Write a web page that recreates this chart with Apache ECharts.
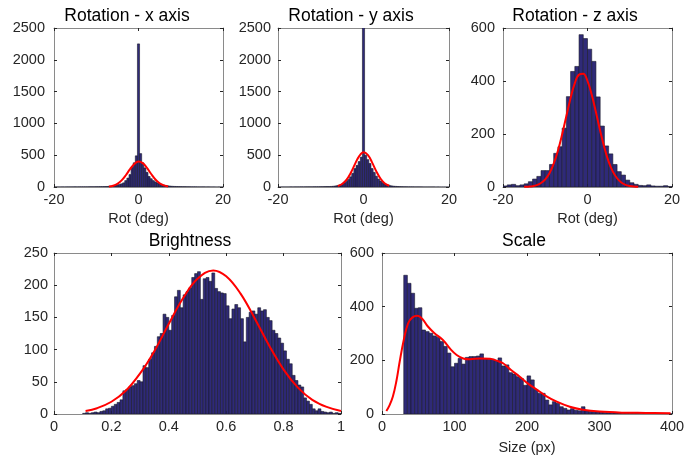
<!DOCTYPE html>
<html><head><meta charset="utf-8">
<script src="https://cdn.jsdelivr.net/npm/echarts@6/dist/echarts.min.js"></script>
<style>html,body{margin:0;padding:0;background:#fff}#c{width:694px;height:456px}</style>
</head><body><div id="c"></div>
<script>
// ---------- DATA ----------
const titles = ['Rotation - x axis', 'Rotation - y axis', 'Rotation - z axis', 'Brightness', 'Scale'];

// Rotation x: bins of 0.5 deg, first bin starts at -20.25
const rotXStart = -20.25, rotXWidth = 0.5;
const rotXCounts = [0,1,1,1,2,1,2,2, 2,2,3,2,3,3,3,3, 3,4,4,4,5,5,6,6,
  7,8,10,13,16,24,30,40,50,65,100,140,195,310,380,490,
  2250,
  525,380,300,230,165,130,100,80,64,52,40,30,24,18,14,11,9,8,7,6,5,5,4,4,3,3,3,2,2,2,2,1,2,1,1,1,0,1,0,0];
const rotXFitX = [-7,-6,-5,-4,-3,-2,-1,0,1,2,3,4,5,6,7];
const rotXFitY = [7,20,50,104,185,281,363,400,375,300,204,118,59,25,9];

// Rotation y
const rotYStart = -20.25, rotYWidth = 0.5;
const rotYCounts = [0,0,1,1,1,1,2,1, 2,2,2,3,2,3,3,3, 3,4,4,4,5,5,6,7,
  7,9,12,17,24,33,47,65,88,120,160,215,290,340,400,470,
  3200,
  500,430,370,290,230,170,125,95,70,50,36,26,18,13,10,8,6,5,4,4,3,3,3,2,2,2,2,1,1,1,1,1,1,0,1,0,0,0,0,0];
const rotYFitX = [-6,-5,-4,-3,-2,-1,0,1,2,3,4,5,6];
const rotYFitY = [16,47,111,220,359,486,545,505,387,246,129,56,20];

// Rotation z: bins of 1 deg from -20
const rotZStart = -20, rotZWidth = 1;
const rotZCounts = [4,8,10,5,8,12,20,30,40,62,62,85,127,152,222,341,436,455,575,560,
  520,474,340,230,155,125,85,58,45,26,16,10,6,5,8,4,3,3,5,2];
const rotZFitX = [-15,-14,-13,-12,-11,-10,-9,-8,-7,-6,-5,-4,-3,-2,-1,0,1,2,3,4,5,6,7,8,9,10,11,12];
const rotZFitY = [0.5,1.3,3,7,15,29,52,88,137,199,268,336,392,424,427,400,348,282,212,148,96,58,33,17,8,4,1.6,0.6];

// Brightness: bins of 0.01 from 0.10
const brightStart = 0.10, brightWidth = 0.01;
const brightCounts = [1,2,1,2,3,2,4,5,8,9, 12,15,18,22,36,38,42,44,47,52,
  50,75,72,85,95,105,120,125,155,150, 130,153,182,192,165,185,190,196,212,218,
  221,178,210,212,206,219,195,190,188,187, 168,148,163,170,165,148,112,150,158,160,
  155,165,160,162,150,145,130,125,118,110, 98,85,78,60,52,45,42,25,20,15,
  8,5,8,4,3,2,3,1,2,1];
const brightFitX = [0.11,0.15,0.20,0.25,0.30,0.35,0.40,0.45,0.50,0.555,0.60,0.65,0.70,0.75,0.80,0.85,0.90,0.95,1.00];
const brightFitY = [4.7,9,19,36,63,98,140,180,210,223,214,187,148,106,69,41,22,11,4.7];

// Scale: bins of 5 px from 30
const scaleStart = 30, scaleWidth = 5;
const scaleCounts = [517,487,450,394,396,313,307,301,291,286, 270,252,227,176,189,207,186,211,214,214,
  216,224,207,204,204,199,209,179,183,154, 149,139,132,107,142,127,91,77,77,52,
  34,46,40,27,21,15,20,14,12,27, 12,10,9,8,7,6,5,6,4,4,
  3,3,2,2,2,1,2,1,1,1, 1,0,1,1];
const scaleFitX = [6,10,15,20,24,30,36,42,49,56,63,72,84,95,103,112,121,135,149,158,167,178,190,201,213,227,241,259,277,300,332,364,398];
const scaleFitY = [11,30,65,125,189,276,338,360,366,353,327,302,276,240,220,207,204,207,206,199,189,164,139,114,92,66,46,27,16,9,5,4,3];

// Axis ticks [min, max, step]
const xTicks = [[-20,20,20],[-20,20,20],[-20,20,20],[0,1,0.2],[0,400,100]];
const yTicks = [[0,2500,500],[0,2500,500],[0,600,200],[0,250,50],[0,600,200]];
const xNames = ['Rot (deg)','Rot (deg)','Rot (deg)','','Size (px)'];

// ---------- LAYOUT / STYLE ----------
const FONT = '"Liberation Sans", Arial, Helvetica, sans-serif';
const grids = [
  {left:54, top:28, width:169, height:159},
  {left:278, top:28, width:171, height:159},
  {left:503, top:28, width:169, height:159},
  {left:54, top:253, width:287, height:161},
  {left:382, top:253, width:290, height:161}
];
const titlePos = [[127,16],[351,16],[575,16],[190,241],[524,241]];
const yLabelMargin = [9,7,8,6,8];
const nameGaps = [24,24,24,0,26];

const hists = [
  [rotXStart, rotXWidth, rotXCounts],
  [rotYStart, rotYWidth, rotYCounts],
  [rotZStart, rotZWidth, rotZCounts],
  [brightStart, brightWidth, brightCounts],
  [scaleStart, scaleWidth, scaleCounts]
];
const fits = [[rotXFitX,rotXFitY],[rotYFitX,rotYFitY],[rotZFitX,rotZFitY],[brightFitX,brightFitY],[scaleFitX,scaleFitY]];

const LINE = '#8a8a8a', TICK = '#262626', LABEL = '#262626';
const fmt = v => String(+(+v).toFixed(6));

const xAxis = [], yAxis = [], series = [];
grids.forEach((g, i) => {
  const [xmin,xmax,xint] = xTicks[i];
  const [ymin,ymax,yint] = yTicks[i];
  const common = {
    gridIndex:i, type:'value', splitLine:{show:false},
    axisLine:{show:true, onZero:false, lineStyle:{color:LINE, width:1}},
    axisTick:{show:true, inside:true, length:3, lineStyle:{color:TICK}}
  };
  xAxis.push(Object.assign({}, common, {
    position:'bottom', min:xmin, max:xmax, interval:xint,
    axisLabel:{color:LABEL, fontSize:14.5, fontFamily:FONT, margin:5, formatter:fmt},
    name:xNames[i], nameLocation:'middle', nameGap:nameGaps[i],
    nameTextStyle:{color:LABEL, fontSize:14.5, fontFamily:FONT}
  }));
  xAxis.push(Object.assign({}, common, {
    position:'top', min:xmin, max:xmax, interval:xint, axisLabel:{show:false}
  }));
  yAxis.push(Object.assign({}, common, {
    position:'left', min:ymin, max:ymax, interval:yint,
    axisLabel:{color:LABEL, fontSize:14.5, fontFamily:FONT, margin:yLabelMargin[i], formatter:fmt}
  }));
  yAxis.push(Object.assign({}, common, {
    position:'right', min:ymin, max:ymax, interval:yint, axisLabel:{show:false}
  }));

  const [start, width, counts] = hists[i];
  const data = counts.map((c, k) => [start + k*width, start + (k+1)*width, c]);
  series.push({
    type:'custom', xAxisIndex:2*i, yAxisIndex:2*i, clip:true, silent:true,
    data,
    renderItem:(params, api) => {
      const p0 = api.coord([api.value(0), api.value(2)]);
      const p1 = api.coord([api.value(1), 0]);
      return {type:'rect', shape:{x:p0[0], y:p0[1], width:p1[0]-p0[0], height:p1[1]-p0[1]},
        style:{fill:'#2f2a78', stroke:'#1a1a2a', lineWidth:0.6}};
    },
    z:2
  });
  const [fx, fy] = fits[i];
  series.push({
    type:'line', xAxisIndex:2*i, yAxisIndex:2*i, smooth:0.4, showSymbol:false, silent:true,
    data: fx.map((v, k) => [v, fy[k]]),
    lineStyle:{color:'#ff0000', width:2}, z:5, clip:true
  });
});

const option = {
  animation:false,
  backgroundColor:'#fff',
  grid: grids.map(g => Object.assign({containLabel:false}, g)),
  xAxis, yAxis, series,
  graphic: titles.map((t, i) => ({
    type:'text', x:titlePos[i][0], y:titlePos[i][1],
    style:{text:t, fontSize:17.5, fontFamily:FONT, fill:'#000', align:'center', verticalAlign:'middle', textAlign:'center', textVerticalAlign:'middle'}
  }))
};
const chart = echarts.init(document.getElementById('c'), null, {renderer:'canvas'});
chart.setOption(option);
</script>
</body></html>
